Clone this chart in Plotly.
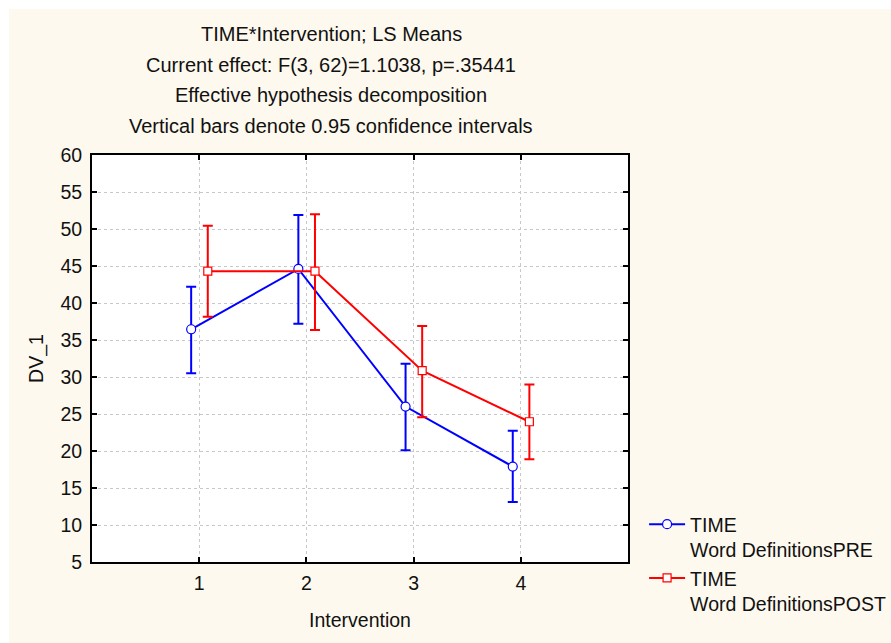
import plotly.graph_objects as go

interventions = [1, 2, 3, 4]
pre_mean = [36.45, 44.6, 26.0, 17.9]
pre_upper = [42.2, 51.9, 31.8, 22.75]
pre_lower = [30.5, 37.2, 20.1, 13.1]
post_mean = [44.3, 44.3, 30.85, 23.95]
post_upper = [50.45, 52.0, 36.9, 29.0]
post_lower = [38.15, 36.35, 24.55, 18.9]
pre_name = "TIME<br>Word DefinitionsPRE"
post_name = "TIME<br>Word DefinitionsPOST"
title_lines = [
    "TIME*Intervention; LS Means",
    "Current effect: F(3, 62)=1.1038, p=.35441",
    "Effective hypothesis decomposition",
    "Vertical bars denote 0.95 confidence intervals",
]
y_ticks = list(range(5, 61, 5))

off_pre = -0.075
off_post = 0.08

fig = go.Figure()
fig.add_trace(go.Scatter(
    x=[v + off_pre for v in interventions], y=pre_mean, name=pre_name,
    mode="lines+markers",
    line=dict(color="#0000ff", width=2),
    marker=dict(symbol="circle", size=9, color="white", line=dict(color="#0000ff", width=1.2)),
    error_y=dict(type="data", symmetric=False,
                 array=[u - m for u, m in zip(pre_upper, pre_mean)],
                 arrayminus=[m - l for m, l in zip(pre_mean, pre_lower)],
                 color="#0000ff", thickness=2, width=5),
))
fig.add_trace(go.Scatter(
    x=[v + off_post for v in interventions], y=post_mean, name=post_name,
    mode="lines+markers",
    line=dict(color="#ff0000", width=2),
    marker=dict(symbol="square", size=8, color="white", line=dict(color="#ff0000", width=1.2)),
    error_y=dict(type="data", symmetric=False,
                 array=[u - m for u, m in zip(post_upper, post_mean)],
                 arrayminus=[m - l for m, l in zip(post_mean, post_lower)],
                 color="#ff0000", thickness=2, width=5),
))

FS = 19.5
font = dict(family="Liberation Sans, Arial, sans-serif", size=FS, color="#111111")
title_font = dict(family="Liberation Sans, Arial, sans-serif", size=20, color="#111111")
for i, t in enumerate(title_lines):
    fig.add_annotation(text=t, xref="paper", yref="paper", x=0.446, y=1,
                       xanchor="center", yanchor="middle",
                       yshift=121 - 30.5 * i, showarrow=False, font=title_font)

# thin white border at top and left of the page
fig.add_shape(type="rect", xref="paper", yref="paper",
              x0=-92 / 536, x1=-83 / 536, y0=-81 / 407, y1=155 / 407 + 1,
              fillcolor="white", line_width=0, layer="below")
fig.add_shape(type="rect", xref="paper", yref="paper",
              x0=-92 / 536, x1=263 / 536 + 1, y0=1 + 146 / 407, y1=1 + 155 / 407,
              fillcolor="white", line_width=0, layer="below")

axis_common = dict(showline=True, linecolor="black", linewidth=2, mirror="ticks",
                   ticks="inside", ticklen=5, tickwidth=2, tickcolor="black",
                   showgrid=True, gridcolor="#c8c8c8", griddash="dot", gridwidth=1,
                   zeroline=False, tickfont=font)

fig.update_layout(
    width=891, height=643,
    margin=dict(l=92, r=263, t=155, b=81, autoexpand=False),
    paper_bgcolor="#fef9ee", plot_bgcolor="white",
    font=font,
    showlegend=True,
    legend=dict(x=1.03, y=0.14, xanchor="left", yanchor="top",
                bgcolor="rgba(0,0,0,0)", font=font, valign="top",
                itemwidth=36),
    xaxis=dict(range=[0, 5], tickvals=interventions, ticktext=[str(v) for v in interventions],
               ticklabelstandoff=3,
               title=dict(text="Intervention", font=font, standoff=20), **axis_common),
    yaxis=dict(range=[5, 60], tickvals=y_ticks, ticklabelstandoff=4,
               title=dict(text="DV_1", font=font, standoff=12), **axis_common),
)

fig.write_html("out.html")
